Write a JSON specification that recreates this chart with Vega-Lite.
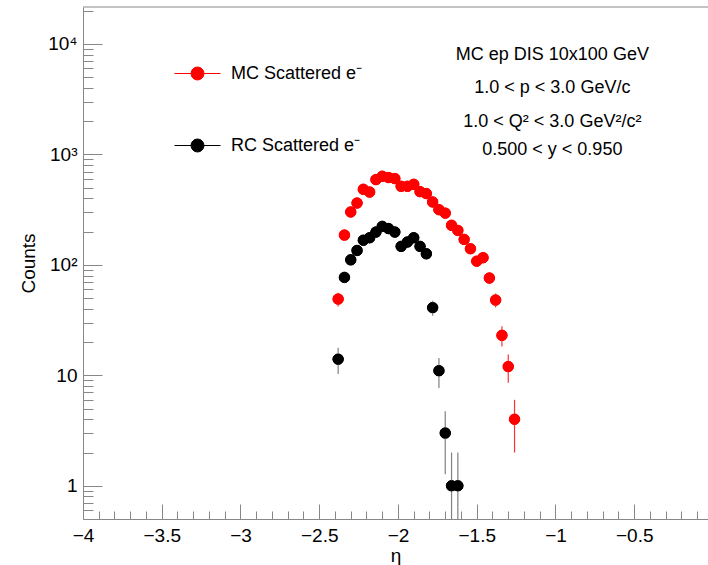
{
  "$schema": "https://vega.github.io/schema/vega-lite/v6.json",
  "width": 625,
  "height": 512,
  "autosize": {"type": "none"},
  "padding": {"left": 83, "top": 7, "right": 0, "bottom": 46},
  "background": "white",
  "config": {"view": {"stroke": null}, "font": "Liberation Sans", "text": {"font": "Liberation Sans"}},
  "datasets": {
    "hist": [
      {"series": "MC Scattered e⁻", "eta": -2.38, "counts": 49, "lo": 42, "hi": 56},
      {"series": "MC Scattered e⁻", "eta": -2.34, "counts": 186, "lo": 172.4, "hi": 199.6},
      {"series": "MC Scattered e⁻", "eta": -2.30, "counts": 301, "lo": 283.7, "hi": 318.3},
      {"series": "MC Scattered e⁻", "eta": -2.26, "counts": 363, "lo": 343.9, "hi": 382.1},
      {"series": "MC Scattered e⁻", "eta": -2.22, "counts": 483, "lo": 461, "hi": 505},
      {"series": "MC Scattered e⁻", "eta": -2.18, "counts": 456, "lo": 434.6, "hi": 477.4},
      {"series": "MC Scattered e⁻", "eta": -2.14, "counts": 591, "lo": 566.7, "hi": 615.3},
      {"series": "MC Scattered e⁻", "eta": -2.10, "counts": 634, "lo": 608.8, "hi": 659.2},
      {"series": "MC Scattered e⁻", "eta": -2.06, "counts": 617, "lo": 592.2, "hi": 641.8},
      {"series": "MC Scattered e⁻", "eta": -2.02, "counts": 604, "lo": 579.4, "hi": 628.6},
      {"series": "MC Scattered e⁻", "eta": -1.98, "counts": 514, "lo": 491.3, "hi": 536.7},
      {"series": "MC Scattered e⁻", "eta": -1.94, "counts": 514, "lo": 491.3, "hi": 536.7},
      {"series": "MC Scattered e⁻", "eta": -1.90, "counts": 536, "lo": 512.8, "hi": 559.2},
      {"series": "MC Scattered e⁻", "eta": -1.86, "counts": 460, "lo": 438.6, "hi": 481.4},
      {"series": "MC Scattered e⁻", "eta": -1.82, "counts": 442, "lo": 421, "hi": 463},
      {"series": "MC Scattered e⁻", "eta": -1.78, "counts": 371, "lo": 351.7, "hi": 390.3},
      {"series": "MC Scattered e⁻", "eta": -1.74, "counts": 316, "lo": 298.2, "hi": 333.8},
      {"series": "MC Scattered e⁻", "eta": -1.70, "counts": 294, "lo": 276.9, "hi": 311.1},
      {"series": "MC Scattered e⁻", "eta": -1.66, "counts": 228, "lo": 212.9, "hi": 243.1},
      {"series": "MC Scattered e⁻", "eta": -1.62, "counts": 205, "lo": 190.7, "hi": 219.3},
      {"series": "MC Scattered e⁻", "eta": -1.58, "counts": 170, "lo": 157, "hi": 183},
      {"series": "MC Scattered e⁻", "eta": -1.54, "counts": 140, "lo": 128.2, "hi": 151.8},
      {"series": "MC Scattered e⁻", "eta": -1.50, "counts": 108, "lo": 97.6, "hi": 118.4},
      {"series": "MC Scattered e⁻", "eta": -1.46, "counts": 116, "lo": 105.2, "hi": 126.8},
      {"series": "MC Scattered e⁻", "eta": -1.42, "counts": 76, "lo": 67.3, "hi": 84.7},
      {"series": "MC Scattered e⁻", "eta": -1.38, "counts": 48, "lo": 41.1, "hi": 54.9},
      {"series": "MC Scattered e⁻", "eta": -1.34, "counts": 23, "lo": 18.2, "hi": 27.8},
      {"series": "MC Scattered e⁻", "eta": -1.30, "counts": 12, "lo": 8.54, "hi": 15.46},
      {"series": "MC Scattered e⁻", "eta": -1.26, "counts": 4, "lo": 2, "hi": 6},
      {"series": "RC Scattered e⁻", "eta": -2.38, "counts": 14, "lo": 10.26, "hi": 17.74},
      {"series": "RC Scattered e⁻", "eta": -2.34, "counts": 77, "lo": 68.23, "hi": 85.77},
      {"series": "RC Scattered e⁻", "eta": -2.30, "counts": 111, "lo": 100.5, "hi": 121.5},
      {"series": "RC Scattered e⁻", "eta": -2.26, "counts": 135, "lo": 123.4, "hi": 146.6},
      {"series": "RC Scattered e⁻", "eta": -2.22, "counts": 167, "lo": 154.1, "hi": 179.9},
      {"series": "RC Scattered e⁻", "eta": -2.18, "counts": 176, "lo": 162.7, "hi": 189.3},
      {"series": "RC Scattered e⁻", "eta": -2.14, "counts": 198, "lo": 183.9, "hi": 212.1},
      {"series": "RC Scattered e⁻", "eta": -2.10, "counts": 223, "lo": 208.1, "hi": 237.9},
      {"series": "RC Scattered e⁻", "eta": -2.06, "counts": 213, "lo": 198.4, "hi": 227.6},
      {"series": "RC Scattered e⁻", "eta": -2.02, "counts": 198, "lo": 183.9, "hi": 212.1},
      {"series": "RC Scattered e⁻", "eta": -1.98, "counts": 147, "lo": 134.9, "hi": 159.1},
      {"series": "RC Scattered e⁻", "eta": -1.94, "counts": 161, "lo": 148.3, "hi": 173.7},
      {"series": "RC Scattered e⁻", "eta": -1.90, "counts": 176, "lo": 162.7, "hi": 189.3},
      {"series": "RC Scattered e⁻", "eta": -1.86, "counts": 147, "lo": 134.9, "hi": 159.1},
      {"series": "RC Scattered e⁻", "eta": -1.82, "counts": 126, "lo": 114.8, "hi": 137.2},
      {"series": "RC Scattered e⁻", "eta": -1.78, "counts": 41, "lo": 34.6, "hi": 47.4},
      {"series": "RC Scattered e⁻", "eta": -1.74, "counts": 11, "lo": 7.68, "hi": 14.32},
      {"series": "RC Scattered e⁻", "eta": -1.70, "counts": 3, "lo": 1.27, "hi": 4.73},
      {"series": "RC Scattered e⁻", "eta": -1.66, "counts": 1, "lo": 0.5, "hi": 2},
      {"series": "RC Scattered e⁻", "eta": -1.62, "counts": 1, "lo": 0.5, "hi": 2}
    ],
    "notes": [
      {"eta": -1.02, "yv": 7900, "label": "MC ep DIS 10x100 GeV"},
      {"eta": -1.02, "yv": 4011, "label": "1.0 < p < 3.0 GeV/c"},
      {"eta": -1.02, "yv": 1954, "label": "1.0 < Q² < 3.0 GeV²/c²"},
      {"eta": -1.02, "yv": 1101, "label": "0.500 < y < 0.950"}
    ]
  },
  "layer": [
    {
      "data": {"name": "hist"},
      "mark": {"type": "circle", "size": 110, "opacity": 1, "strokeWidth": 1},
      "encoding": {
        "x": {
          "field": "eta", "type": "quantitative",
          "scale": {"domain": [-4, -0.0317], "nice": false, "zero": false},
          "axis": {
            "title": "η",
            "tickCount": 40,
            "labelExpr": "abs(datum.value*2 - round(datum.value*2)) < 0.01 ? format(datum.value, '~g') : ''",
            "tickSize": {"condition": {"test": "abs(datum.value*2 - round(datum.value*2)) < 0.01", "value": -15}, "value": -8},
            "tickColor": "#888888",
            "domainColor": "#888888",
            "grid": false,
            "labelFlush": false,
            "labelOverlap": false,
            "labelFontSize": 19,
            "labelColor": "black",
            "labelPadding": 22,
            "titleFontSize": 19,
            "titleFontWeight": "normal",
            "titleColor": "black",
            "titlePadding": -6
          }
        },
        "y": {
          "field": "counts", "type": "quantitative",
          "scale": {"type": "log", "domain": [0.5, 21600], "nice": false},
          "axis": {
            "title": "Counts",
            "values": [0.6,0.7,0.8,0.9,1,2,3,4,5,6,7,8,9,10,20,30,40,50,60,70,80,90,100,200,300,400,500,600,700,800,900,1000,2000,3000,4000,5000,6000,7000,8000,9000,10000,20000],
            "labelExpr": "datum.value == 1 ? '1' : datum.value == 10 ? '10' : datum.value == 100 ? '10²' : datum.value == 1000 ? '10³' : datum.value == 10000 ? '10⁴' : ''",
            "tickSize": {"condition": {"test": "indexof([1,10,100,1000,10000], datum.value) >= 0", "value": -19}, "value": -10},
            "tickColor": "#888888",
            "domainColor": "#888888",
            "grid": false,
            "labelOverlap": false,
            "labelFontSize": 19,
            "labelColor": "black",
            "labelPadding": 25,
            "titleFontSize": 19,
            "titleFontWeight": "normal",
            "titleColor": "black",
            "titlePadding": 9
          }
        },
        "fill": {
          "field": "series", "type": "nominal",
          "scale": {"domain": ["MC Scattered e⁻", "RC Scattered e⁻"], "range": ["#ff0000", "#000000"]},
          "legend": {
            "title": null,
            "orient": "none",
            "legendX": 91,
            "legendY": 43,
            "padding": 0,
            "symbolType": "M-1,0H1M-0.28,0A0.28,0.28 0 1,1 0.28,0A0.28,0.28 0 1,1 -0.28,0Z",
            "symbolSize": 2116,
            "symbolStrokeWidth": 1,
            "labelFontSize": 18,
            "labelFont": "Liberation Sans",
            "labelColor": "black",
            "labelOffset": 10,
            "labelLimit": 300,
            "rowPadding": 39
          }
        },
        "stroke": {
          "field": "series", "type": "nominal",
          "scale": {"domain": ["MC Scattered e⁻", "RC Scattered e⁻"], "range": ["#ff0000", "#000000"]},
          "legend": {
            "title": null,
            "orient": "none",
            "legendX": 91,
            "legendY": 43,
            "padding": 0,
            "symbolType": "M-1,0H1M-0.28,0A0.28,0.28 0 1,1 0.28,0A0.28,0.28 0 1,1 -0.28,0Z",
            "symbolSize": 2116,
            "symbolStrokeWidth": 1,
            "labelFontSize": 18,
            "labelFont": "Liberation Sans",
            "labelColor": "black",
            "labelOffset": 10,
            "labelLimit": 300,
            "rowPadding": 39
          }
        }
      }
    },
    {
      "data": {"name": "hist"},
      "transform": [{"filter": {"field": "series", "equal": "MC Scattered e⁻"}}],
      "mark": {"type": "rule", "strokeWidth": 1.2, "color": "#ff3030"},
      "encoding": {
        "x": {"field": "eta", "type": "quantitative"},
        "y": {"field": "lo", "type": "quantitative"},
        "y2": {"field": "hi"}
      }
    },
    {
      "data": {"name": "hist"},
      "transform": [{"filter": {"field": "series", "equal": "RC Scattered e⁻"}}],
      "mark": {"type": "rule", "strokeWidth": 1.2, "color": "#808080"},
      "encoding": {
        "x": {"field": "eta", "type": "quantitative"},
        "y": {"field": "lo", "type": "quantitative"},
        "y2": {"field": "hi"}
      }
    },
    {
      "data": {"name": "hist"},
      "transform": [{"filter": {"field": "series", "equal": "MC Scattered e⁻"}}],
      "mark": {"type": "circle", "size": 120, "opacity": 1, "color": "#ff0000"},
      "encoding": {
        "x": {"field": "eta", "type": "quantitative"},
        "y": {"field": "counts", "type": "quantitative"}
      }
    },
    {
      "data": {"name": "hist"},
      "transform": [{"filter": {"field": "series", "equal": "RC Scattered e⁻"}}],
      "mark": {"type": "circle", "size": 120, "opacity": 1, "color": "#000000"},
      "encoding": {
        "x": {"field": "eta", "type": "quantitative"},
        "y": {"field": "counts", "type": "quantitative"}
      }
    },
    {
      "data": {"name": "notes"},
      "mark": {"type": "text", "fontSize": 18, "align": "center", "baseline": "middle", "color": "black"},
      "encoding": {
        "x": {"field": "eta", "type": "quantitative"},
        "y": {"field": "yv", "type": "quantitative"},
        "text": {"field": "label", "type": "nominal"}
      }
    },
    {
      "data": {"values": [{}]},
      "mark": {"type": "rule", "color": "#888888"},
      "encoding": {"y": {"datum": 21600, "type": "quantitative"}}
    }
  ]
}
